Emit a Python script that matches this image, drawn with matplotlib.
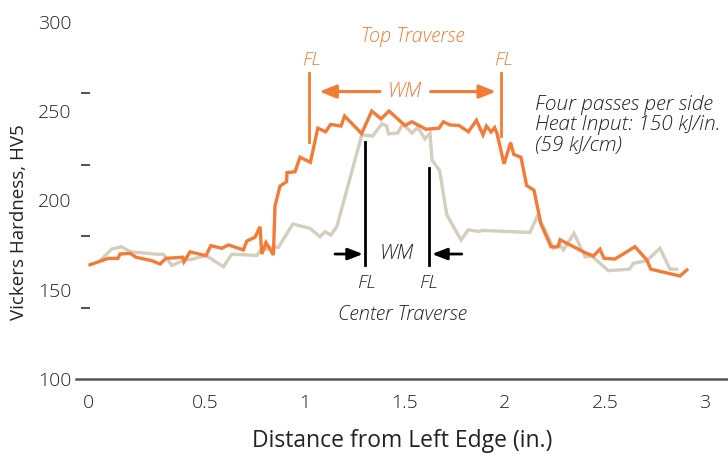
import matplotlib
matplotlib.use("Agg")
import matplotlib.pyplot as plt
import matplotlib.transforms as mtransforms

plt.rcParams['font.family'] = ['Open Sans', 'DejaVu Sans']
plt.rcParams['font.weight'] = 'light'

# top traverse (orange), distance in inches vs HV5
top_x = [-0.075, 0.015, 0.065, 0.075, 0.125, 0.155, 0.234, 0.275, 0.305, 0.389,
         0.395, 0.425, 0.505, 0.529, 0.584, 0.617, 0.692, 0.709, 0.75, 0.775,
         0.784, 0.805, 0.842, 0.85, 0.875, 0.908, 0.91, 0.95, 0.975, 1.027,
         1.064, 1.103, 1.128, 1.18, 1.198, 1.283, 1.334, 1.38, 1.42, 1.5,
         1.534, 1.605, 1.67, 1.692, 1.725, 1.77, 1.817, 1.857, 1.89, 1.907,
         1.93, 1.948, 1.96, 1.995, 2.028, 2.044, 2.08, 2.108, 2.145, 2.18,
         2.23, 2.265, 2.275, 2.4, 2.442, 2.475, 2.495, 2.55, 2.65, 2.709,
         2.729, 2.875, 2.909]
top_hv = [164, 167.5, 167.6, 170, 170.4, 168.2, 166.3, 164.4, 167.6, 168.2,
          165.7, 171.2, 169.1, 174.7, 173.2, 175.1, 172.3, 177.3, 179.4, 185.3,
          170, 176.4, 169.5, 196.9, 208.1, 210.5, 215.6, 216.1, 224.2, 221.4,
          240.5, 238.5, 242.6, 241.7, 247.3, 237.5, 250.1, 245.7, 250.1, 242,
          244.1, 239.9, 240.5, 244.1, 242.3, 242, 238.5, 244.9, 236.7, 241.7,
          238.4, 240.8, 237.6, 220.5, 232.4, 225.8, 224.2, 208.4, 205.7, 186.8,
          174.1, 174, 178, 170.8, 168.9, 172.7, 167.6, 167.2, 174.1, 166.7,
          161.5, 157.7, 161.1]

# center traverse (grey)
ctr_x = [-0.017, 0.034, 0.08, 0.13, 0.26, 0.292, 0.335, 0.392, 0.434, 0.505,
         0.592, 0.634, 0.759, 0.775, 0.85, 0.867, 0.939, 1.025, 1.075, 1.1,
         1.129, 1.159, 1.284, 1.338, 1.384, 1.409, 1.417, 1.463, 1.49, 1.535,
         1.563, 1.6, 1.625, 1.635, 1.673, 1.709, 1.78, 1.817, 1.865, 1.892,
         2.125, 2.16, 2.192, 2.242, 2.275, 2.292, 2.345, 2.4, 2.434, 2.517,
         2.622, 2.642, 2.709, 2.775, 2.825, 2.859]
ctr_hv = [167.1, 172.8, 174.1, 171.2, 169.9, 169.9, 163.6, 166.4, 167.1, 169.2,
          162.9, 169.9, 169.2, 171.7, 174.1, 173.7, 186.8, 184.4, 179.7, 182.5,
          180.7, 185.3, 236.7, 236.1, 242.9, 241.7, 237.3, 237.8, 242.9, 237.8,
          240.9, 234.5, 237.6, 222.7, 216.8, 191.9, 177.9, 183.6, 182.7, 183.2,
          182.1, 190.8, 185.3, 173.2, 175.1, 172.3, 181.6, 168.5, 168.9, 160.7,
          161.5, 164.8, 166.3, 173.2, 161.5, 161.5]

x_ticks = [0, 0.5, 1, 1.5, 2, 2.5, 3]
x_labels = ['0', '0.5', '1', '1.5', '2', '2.5', '3']
y_labels = [100, 150, 200, 250, 300]
y_dashes = [140, 180, 220, 260, 300]

# fusion line / weld metal markers
top_fl = [1.022, 1.979]
ctr_fl = [1.30, 1.622]

orange = '#F47B35'
grey = '#D5CDBE'
ink = '#222222'

fig = plt.figure(figsize=(7.28, 4.55), dpi=100)
ax = fig.add_axes([76 / 728, 76 / 455, 652 / 728, 379 / 455])

ax.plot(ctr_x, ctr_hv, color=grey, lw=2.4, solid_joinstyle='miter')
ax.plot(top_x, top_hv, color=orange, lw=2.4, solid_joinstyle='miter')

ax.set_xlim(-0.145, 3.115)
ax.set_ylim(100, 312.3)

for s in ['top', 'right', 'left']:
    ax.spines[s].set_visible(False)
ax.spines['bottom'].set_color('#555555')
ax.spines['bottom'].set_linewidth(1.8)
ax.spines['left'].set_position(('data', -0.12))

ax.set_xticks(x_ticks)
ax.set_xticklabels(x_labels)
ax.tick_params(axis='x', length=0, pad=11, labelsize=14, labelcolor=ink)
ax.set_yticks(y_labels)
ax.tick_params(axis='y', which='major', length=0, pad=7, labelsize=14, labelcolor=ink)
ax.set_yticks(y_dashes, minor=True)
ax.tick_params(axis='y', which='minor', direction='in', length=6.5, width=1.1, color=ink)

# "0" label sits left of its tick in the reference
lab0 = ax.get_xticklabels()[0]
lab0.set_transform(lab0.get_transform() + mtransforms.ScaledTranslation(-17 / 100, 0, fig.dpi_scale_trans))

ax.set_xlabel('Distance from Left Edge (in.)', fontsize=16.5, color=ink, labelpad=12)
ax.set_ylabel('Vickers Hardness, HV5', fontsize=13.5, color=ink)
ax.yaxis.set_label_coords(-0.074, 0.415)

# top traverse annotations
ax.text(1.54, 291.5, 'Top Traverse', color=orange, style='italic', fontsize=14.3, ha='center', va='center')
for xf in top_fl:
    ax.text(xf + 0.01, 278.5, 'FL', color=orange, style='italic', fontsize=14, ha='center', va='center')
ax.plot([top_fl[0]] * 2, [271.3, 232.9], color=orange, lw=2)
ax.plot([top_fl[1]] * 2, [271.3, 236.1], color=orange, lw=2)
ax.annotate('', xy=(1.072, 261), xytext=(1.375, 261),
            arrowprops=dict(arrowstyle='-|>,head_length=1.0,head_width=0.4', color=orange, lw=2.2, shrinkA=0, shrinkB=0))
ax.annotate('', xy=(1.955, 261), xytext=(1.628, 261),
            arrowprops=dict(arrowstyle='-|>,head_length=1.0,head_width=0.4', color=orange, lw=2.2, shrinkA=0, shrinkB=0))
ax.text(1.5, 261, 'WM', color=orange, style='italic', fontsize=15, ha='center', va='center')

# center traverse annotations
ax.plot([ctr_fl[0]] * 2, [232.9, 163.9], color='black', lw=2)
ax.plot([ctr_fl[1]] * 2, [218.0, 163.9], color='black', lw=2)
ax.annotate('', xy=(1.29, 170), xytext=(1.15, 170),
            arrowprops=dict(arrowstyle='-|>,head_length=0.9,head_width=0.35', color='black', lw=2, shrinkA=0, shrinkB=0))
ax.annotate('', xy=(1.635, 170), xytext=(1.784, 170),
            arrowprops=dict(arrowstyle='-|>,head_length=0.9,head_width=0.35', color='black', lw=2, shrinkA=0, shrinkB=0))
ax.text(1.46, 170, 'WM', color=ink, style='italic', fontsize=15, ha='center', va='center')
ax.text(1.305, 153.8, 'FL', color=ink, style='italic', fontsize=14, ha='center', va='center')
ax.text(1.615, 153.8, 'FL', color=ink, style='italic', fontsize=14, ha='center', va='center')
ax.text(1.487, 136, 'Center Traverse', color=ink, style='italic', fontsize=14.5, ha='center', va='center')

ax.text(2.15, 259, 'Four passes per side\nHeat Input: 150 kJ/in.\n(59 kJ/cm)', color=ink,
        style='italic', fontsize=15, ha='left', va='top', linespacing=1.02)

fig.savefig('out.png', dpi=100)
